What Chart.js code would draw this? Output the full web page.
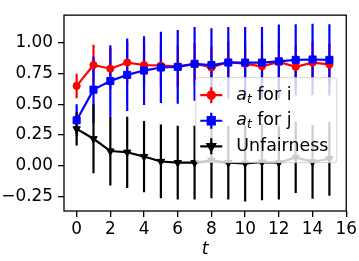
<!DOCTYPE html>
<html>
<head>
<meta charset="utf-8">
<script src="https://cdn.jsdelivr.net/npm/chart.js@4.4.0/dist/chart.umd.min.js"></script>
<style>
    html, body { margin: 0; padding: 0; background: #fff; }
</style>
</head>
<body>
<canvas id="myChart" width="359" height="261"></canvas>
<script>
(function () {
    "use strict";

    // values
    const steps = [0, 1, 2, 3, 4, 5, 6, 7, 8, 9, 10, 11, 12, 13, 14, 15];
    const atI = [0.65, 0.82, 0.79, 0.84, 0.82, 0.815, 0.81, 0.83, 0.80, 0.845, 0.83, 0.81, 0.845, 0.805, 0.84, 0.825];
    const atIErr = [0.10, 0.165, 0.17, 0.17, 0.17, 0.17, 0.17, 0.17, 0.17, 0.17, 0.17, 0.17, 0.17, 0.17, 0.17, 0.17];
    const atJ = [0.37, 0.62, 0.69, 0.74, 0.775, 0.80, 0.805, 0.83, 0.82, 0.84, 0.84, 0.84, 0.85, 0.862, 0.865, 0.862];
    const atJErr = [0.13, 0.27, 0.29, 0.295, 0.28, 0.29, 0.30, 0.30, 0.30, 0.29, 0.29, 0.29, 0.30, 0.29, 0.29, 0.29];
    const unfairness = [0.30, 0.22, 0.12, 0.11, 0.075, 0.035, 0.025, 0.025, 0.045, 0.025, 0.02, 0.03, 0.025, 0.068, 0.032, 0.057];
    const unfairnessErr = [0.135, 0.28, 0.28, 0.29, 0.29, 0.30, 0.30, 0.30, 0.31, 0.30, 0.31, 0.31, 0.30, 0.29, 0.30, 0.30];
    const xTicks = [0, 2, 4, 6, 8, 10, 12, 14, 16];
    const yTicks = [-0.25, 0, 0.25, 0.5, 0.75, 1.0];

    const FONT = "'DejaVu Sans', sans-serif";

    function points(values) {
        return steps.map((t, i) => ({x: t, y: values[i]}));
    }

    // vertical error bars, drawn under all lines like matplotlib does
    const errorBars = {
        id: 'errorBars',
        beforeDatasetsDraw(chart) {
            const ctx = chart.ctx;
            const xs = chart.scales.x, ys = chart.scales.y;
            const area = chart.chartArea;
            ctx.save();
            ctx.beginPath();
            ctx.rect(area.left, area.top, area.right - area.left, area.bottom - area.top);
            ctx.clip();
            ctx.lineWidth = 2.2;
            chart.data.datasets.forEach(ds => {
                ctx.strokeStyle = ds.borderColor;
                ds.data.forEach((p, i) => {
                    const px = xs.getPixelForValue(p.x);
                    ctx.beginPath();
                    ctx.moveTo(px, ys.getPixelForValue(p.y - ds.errors[i]));
                    ctx.lineTo(px, ys.getPixelForValue(p.y + ds.errors[i]));
                    ctx.stroke();
                });
            });
            ctx.restore();
        }
    };

    // full box round the axes
    const frame = {
        id: 'frame',
        afterDatasetsDraw(chart) {
            const ctx = chart.ctx, a = chart.chartArea;
            ctx.save();
            ctx.strokeStyle = '#000';
            ctx.lineWidth = 1.3;
            ctx.strokeRect(a.left, a.top, a.right - a.left, a.bottom - a.top);
            ctx.restore();
        }
    };

    // matplotlib style legend with a subscript
    const legendBox = {
        id: 'legendBox',
        afterDraw(chart) {
            const ctx = chart.ctx, a = chart.chartArea;
            const bx = a.right - 9.5, by = a.top + 62.5;
            const w = 141, h = 85;
            ctx.save();
            ctx.beginPath();
            ctx.roundRect(bx - w, by, w, h, 3);
            ctx.fillStyle = 'rgba(255,255,255,0.8)';
            ctx.fill();
            ctx.strokeStyle = 'rgba(204,204,204,0.8)';
            ctx.lineWidth = 1;
            ctx.stroke();

            const entries = [
                {ds: chart.data.datasets[0], sub: true, rest: ' for i'},
                {ds: chart.data.datasets[1], sub: true, rest: ' for j'},
                {ds: chart.data.datasets[2], sub: false, rest: 'Unfairness'}
            ];
            const x0 = bx - w + 4.5;
            entries.forEach((e, k) => {
                const cy = by + 17.5 + k * 25.6;
                const ds = e.ds;
                ctx.strokeStyle = ds.borderColor;
                ctx.fillStyle = ds.borderColor;
                ctx.lineWidth = 2.2;
                ctx.beginPath();
                ctx.moveTo(x0, cy);
                ctx.lineTo(x0 + 22, cy);
                ctx.moveTo(x0 + 11, cy - 8);
                ctx.lineTo(x0 + 11, cy + 8);
                ctx.stroke();
                Chart.helpers.drawPoint(ctx, {
                    pointStyle: ds.pointStyle,
                    radius: ds.pointRadius,
                    rotation: ds.pointRotation || 0,
                    borderWidth: 1
                }, x0 + 11, cy);

                ctx.fillStyle = '#000';
                ctx.textBaseline = 'middle';
                ctx.textAlign = 'left';
                let tx = x0 + 36;
                if (e.sub) {
                    ctx.font = 'italic 17.4px ' + FONT;
                    ctx.fillText('a', tx, cy);
                    tx += ctx.measureText('a').width;
                    ctx.font = 'italic 12.2px ' + FONT;
                    ctx.fillText('t', tx, cy + 4.5);
                    tx += ctx.measureText('t').width;
                }
                ctx.font = '17.4px ' + FONT;
                ctx.fillText(e.rest, tx, cy);
            });
            ctx.restore();
        }
    };

    const ctx = document.getElementById('myChart').getContext('2d');
    new Chart(ctx, {
        type: 'line',
        data: {
            datasets: [
                {
                    label: 'a_t for i',
                    data: points(atI),
                    errors: atIErr,
                    borderColor: '#ff0000',
                    backgroundColor: '#ff0000',
                    borderWidth: 2.2,
                    pointStyle: 'circle',
                    pointRadius: 3.6,
                    pointBorderWidth: 1,
                    order: 3
                },
                {
                    label: 'a_t for j',
                    data: points(atJ),
                    errors: atJErr,
                    borderColor: '#0000ff',
                    backgroundColor: '#0000ff',
                    borderWidth: 2.2,
                    pointStyle: 'rect',
                    pointRadius: 5,
                    pointBorderWidth: 1,
                    order: 2
                },
                {
                    label: 'Unfairness',
                    data: points(unfairness),
                    errors: unfairnessErr,
                    borderColor: '#000000',
                    backgroundColor: '#000000',
                    borderWidth: 2.2,
                    pointStyle: 'triangle',
                    pointRotation: 180,
                    pointRadius: 4.3,
                    pointBorderWidth: 1,
                    order: 1
                }
            ]
        },
        options: {
            responsive: false,
            animation: false,
            events: [],
            layout: {padding: {top: 1, right: 12, left: 0, bottom: 0}},
            plugins: {
                legend: {display: false},
                tooltip: {enabled: false}
            },
            scales: {
                x: {
                    type: 'linear',
                    min: -0.75,
                    max: 16,
                    afterFit(scale) { scale.height = 50; },
                    afterBuildTicks(scale) { scale.ticks = xTicks.map(v => ({value: v})); },
                    border: {display: false},
                    grid: {drawOnChartArea: false, drawTicks: true, tickLength: 6, color: '#000', lineWidth: 1.3},
                    ticks: {
                        color: '#000',
                        padding: 2,
                        maxRotation: 0,
                        font: {family: FONT, size: 16.9},
                        callback: v => String(v)
                    },
                    title: {
                        display: true,
                        text: 't',
                        color: '#000',
                        font: {family: FONT, size: 17.4, style: 'italic'},
                        padding: {top: 0, bottom: 1}
                    }
                },
                y: {
                    min: -0.368,
                    max: 1.226,
                    afterFit(scale) { scale.width = 64; },
                    afterBuildTicks(scale) { scale.ticks = yTicks.map(v => ({value: v})); },
                    border: {display: false},
                    grid: {drawOnChartArea: false, drawTicks: true, tickLength: 6, color: '#000', lineWidth: 1.3},
                    ticks: {
                        color: '#000',
                        padding: 5,
                        font: {family: FONT, size: 16.9},
                        callback: v => v.toFixed(2).replace('-', '\u2212')
                    }
                }
            }
        },
        plugins: [errorBars, frame, legendBox]
    });
})();
</script>
</body>
</html>
